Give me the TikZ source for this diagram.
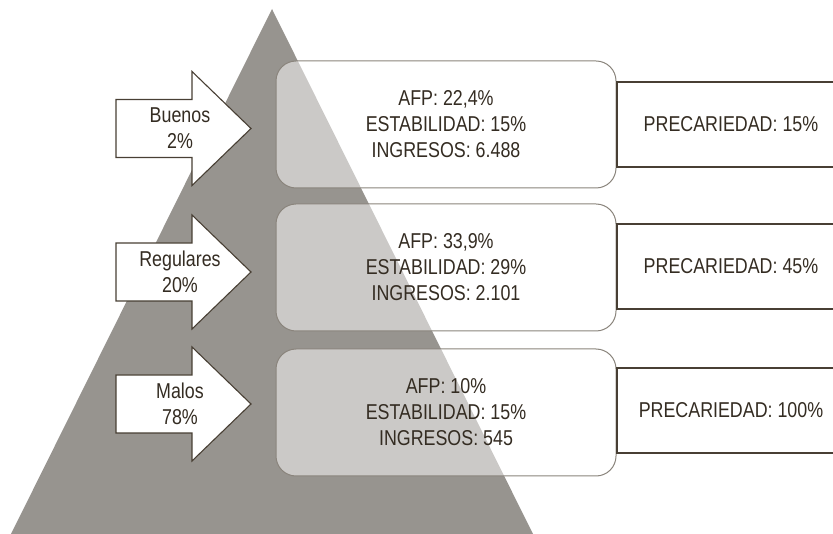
\documentclass[tikz,border=0pt]{standalone}
\usepackage{fontspec}
\setmainfont{Liberation Sans}[FakeStretch=0.83]
\usepackage{tikz}
\usetikzlibrary{positioning}
\definecolor{gris}{RGB}{151,148,143}
\definecolor{borde}{RGB}{138,132,124}
\definecolor{cafe}{RGB}{72,63,52}
\definecolor{texto}{RGB}{52,44,34}
\tikzset{
  piramide/.style={fill=gris},
  flecha/.style={draw=cafe, fill=white, line width=1.1pt},
  etiqueta/.style={align=center, text=texto, font=\fontsize{21.5}{26}\selectfont},
  datos/.style={etiqueta, draw=borde, fill=white, fill opacity=0.5, text opacity=1,
    rounded corners=20pt, minimum width=340pt, minimum height=127pt, inner sep=0pt, line width=1pt},
  precline/.style={draw=cafe, line width=1.3pt},
}
\begin{document}
\begin{tikzpicture}[x=1pt, y=-1pt]
  \useasboundingbox (0,0) rectangle (833,534);
  \fill[piramide] (272,9) -- (533,534) -- (11,534) -- cycle;

  % flechas
  \foreach \c/\n/\t in {128.5/buenos/{Buenos\\2\%}, 272/regulares/{Regulares\\20\%}, 404/malos/{Malos\\78\%}}{
    \draw[flecha] (116,\c-29) -- (192,\c-29) -- (192,\c-57) -- (251,\c)
      -- (192,\c+57) -- (192,\c+29) -- (116,\c+29) -- cycle;
    \node[etiqueta] (\n) at (180,\c) {\t};
  }

  % cajas de datos
  \node[datos] (d1) at (446,124.5) {AFP: 22,4\%\\ESTABILIDAD: 15\%\\INGRESOS: 6.488};
  \node[datos, below=15pt of d1] (d2) {AFP: 33,9\%\\ESTABILIDAD: 29\%\\INGRESOS: 2.101};
  \node[datos, below=17pt of d2] (d3) {AFP: 10\%\\ESTABILIDAD: 15\%\\INGRESOS: 545};

  % precariedad
  \foreach \c/\n/\t in {124.5/p1/15, 266.5/p2/45, 410.5/p3/100}{
    \draw[precline] (834,\c-42.5) -| (617,\c+42.5) -- (834,\c+42.5);
    \node[etiqueta] (\n) at (731,\c) {PRECARIEDAD: \t\%};
  }
\end{tikzpicture}
\end{document}
